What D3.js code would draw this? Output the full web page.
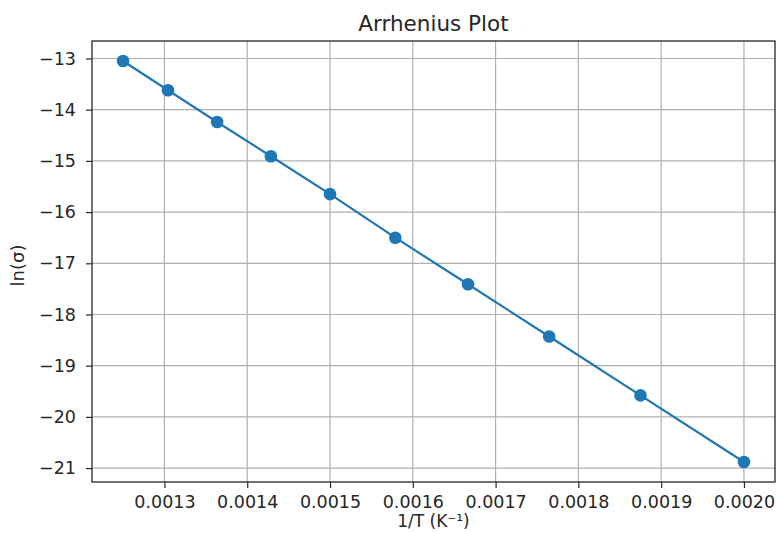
<!DOCTYPE html>
<html lang="en">
<head>
<meta charset="UTF-8">
<title>Arrhenius Plot</title>
<script src="https://d3js.org/d3.v7.min.js"></script>
<style>
  body { margin: 0; background: #fff; }
  text { font-family: "DejaVu Sans", sans-serif; fill: #262626; }
</style>
</head>
<body>
<div id="chart"></div>
<script>
// data
const invT = [0.00125, 0.0013043, 0.0013636, 0.0014286, 0.0015, 0.0015789, 0.0016667, 0.0017647, 0.001875, 0.002];
const lnSigma = [-13.05, -13.62, -14.24, -14.91, -15.65, -16.50, -17.41, -18.43, -19.58, -20.88];
const xTicks = [0.0013, 0.0014, 0.0015, 0.0016, 0.0017, 0.0018, 0.0019, 0.0020];
const yTicks = [-13, -14, -15, -16, -17, -18, -19, -20, -21];

const W = 777, H = 533;
const margin = {top: 41, right: 2, bottom: 51, left: 92};
const pw = W - margin.left - margin.right, ph = H - margin.top - margin.bottom;

const pts = invT.map((x, i) => ({x: x, y: lnSigma[i]}));

// matplotlib style 5% padding
const xe = d3.extent(invT), ye = d3.extent(lnSigma);
const xp = (xe[1] - xe[0]) * 0.05, yp = (ye[1] - ye[0]) * 0.05;
const x = d3.scaleLinear().domain([xe[0] - xp, xe[1] + xp]).range([0, pw]);
const y = d3.scaleLinear().domain([ye[0] - yp, ye[1] + yp]).range([ph, 0]);

const svg = d3.select("#chart").append("svg").attr("width", W).attr("height", H);
const g = svg.append("g").attr("transform", `translate(${margin.left},${margin.top})`);

// grid
g.append("g").selectAll("line").data(xTicks).join("line")
  .attr("x1", d => x(d)).attr("x2", d => x(d)).attr("y1", 0).attr("y2", ph)
  .attr("stroke", "#b0b0b0").attr("stroke-width", 1.2);
g.append("g").selectAll("line").data(yTicks).join("line")
  .attr("y1", d => y(d)).attr("y2", d => y(d)).attr("x1", 0).attr("x2", pw)
  .attr("stroke", "#b0b0b0").attr("stroke-width", 1.2);

// axes
const fmtX = d3.format(".4f");
const minus = s => s.replace("-", "\u2212");
const xAxis = g.append("g").attr("transform", `translate(0,${ph})`)
  .call(d3.axisBottom(x).tickValues(xTicks).tickFormat(fmtX).tickSizeOuter(0).tickSize(6).tickPadding(8));
const yAxis = g.append("g")
  .call(d3.axisLeft(y).tickValues(yTicks).tickFormat(d => minus(String(d))).tickSizeOuter(0).tickSize(6).tickPadding(10));
[xAxis, yAxis].forEach(a => {
  a.select(".domain").remove();
  a.selectAll("line").attr("stroke", "#262626").attr("stroke-width", 1.2);
  a.selectAll("text").style("font-size", "17.5px").attr("fill", "#262626")
    .style("font-family", "'DejaVu Sans', sans-serif");
});

// frame
g.append("rect").attr("width", pw).attr("height", ph)
  .attr("fill", "none").attr("stroke", "#262626").attr("stroke-width", 1.3);

// line + markers
g.append("path").datum(pts)
  .attr("d", d3.line().x(d => x(d.x)).y(d => y(d.y)))
  .attr("fill", "none").attr("stroke", "#1f77b4").attr("stroke-width", 2.2);
g.append("g").selectAll("circle").data(pts).join("circle")
  .attr("cx", d => x(d.x)).attr("cy", d => y(d.y)).attr("r", 6.3)
  .attr("fill", "#1f77b4");

// labels
svg.append("text").attr("x", margin.left + pw / 2).attr("y", 31)
  .attr("text-anchor", "middle").style("font-size", "21.5px").text("Arrhenius Plot");
svg.append("text").attr("x", margin.left + pw / 2).attr("y", 527)
  .attr("text-anchor", "middle").style("font-size", "17px").text("1/T (K\u207B\u00B9)");
svg.append("text").attr("transform", `translate(24,${margin.top + ph / 2 + 4}) rotate(-90)`)
  .attr("text-anchor", "middle").style("font-size", "18px").text("ln(\u03C3)");
</script>
</body>
</html>
